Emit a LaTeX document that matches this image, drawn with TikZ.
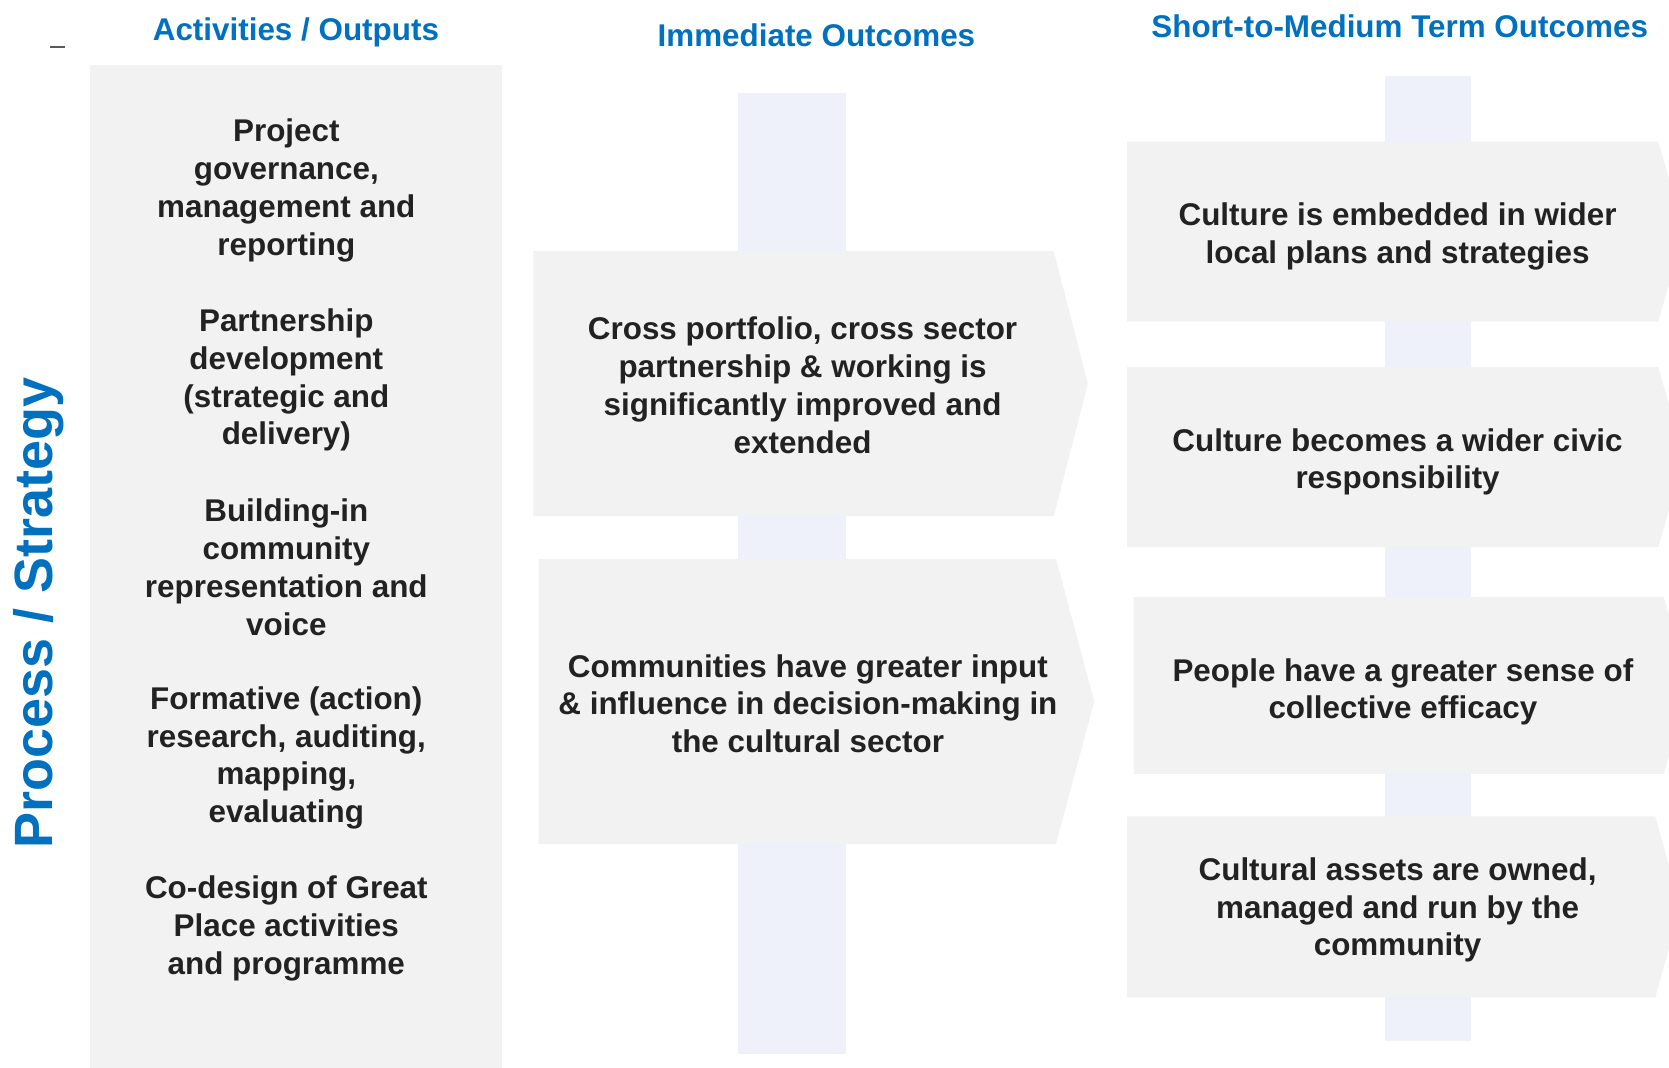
\documentclass[tikz,border=0pt]{standalone}
\usepackage{fontspec}
\setmainfont{Liberation Sans}
\definecolor{hdrblue}{HTML}{0070C0}
\definecolor{txtcol}{HTML}{222222}
\definecolor{panelgray}{HTML}{F2F2F2}
\definecolor{barlav}{HTML}{EEF0FA}
\begin{document}
\begin{tikzpicture}[x=1pt,y=-1pt,
  txt/.style={font=\bfseries\fontsize{29.5}{35.5}\selectfont, text=txtcol, align=center, inner sep=0pt},
  hdr/.style={font=\bfseries\fontsize{29.5}{35}\selectfont, text=hdrblue, inner sep=0pt},
  panel/.style={fill=panelgray, draw=none},
  bar/.style={fill=barlav, draw=none}]
\useasboundingbox (0,0) rectangle (1568,1003);
\clip (0,0) rectangle (1568,1003);
\fill[white] (0,0) rectangle (1568,1003);
% vertical bars
\fill[bar] (693,87) rectangle (795,990);
\fill[bar] (1301,71) rectangle (1382,978);
% left panel
\fill[panel] (85,61) rectangle (472,1003);
% middle chevrons
\fill[panel] (501,236) -- (990,236) -- (1022,360.5) -- (990,485) -- (501,485) -- cycle;
\fill[panel] (506,525) -- (992,525) -- (1028,659) -- (992,793) -- (506,793) -- cycle;
% right chevrons
\fill[panel] (1059,133) -- (1558,133) -- (1582,217.5) -- (1558,302) -- (1059,302) -- cycle;
\fill[panel] (1059,345) -- (1558,345) -- (1582,429.5) -- (1558,514) -- (1059,514) -- cycle;
\fill[panel] (1065,561) -- (1563,561) -- (1587,644) -- (1563,727) -- (1065,727) -- cycle;
\fill[panel] (1059,767) -- (1555,767) -- (1579,852) -- (1555,937) -- (1059,937) -- cycle;
% small dash
\draw[color=txtcol!75, line width=1.6pt] (47,44) -- (61,44);
% headers
\node[hdr] (h1) at (278,30) {Activities / Outputs};
\node[hdr] (h2) at (767,33) {Immediate Outcomes};
\node[hdr] (h3) at (1315,25) {Short-to-Medium Term Outcomes};
\node[font=\bfseries\fontsize{50.7}{55}\selectfont, text=hdrblue, inner sep=0pt, rotate=90] (side) at (36,576) {Process / Strategy};
% left activities
\node[txt] (a1) at (269,179) {Project\\governance,\\management and\\reporting};
\node[txt] (a2) at (269,357) {Partnership\\development\\(strategic and\\delivery)};
\node[txt] (a3) at (269,533) {Building-in\\community\\representation and\\voice};
\node[txt] (a4) at (269,712) {Formative (action)\\research, auditing,\\mapping,\\evaluating};
\node[txt] (a5) at (269,872) {Co-design of Great\\Place activities\\and programme};
% immediate outcomes
\node[txt] (i1) at (754,362) {Cross portfolio, cross sector\\partnership \& working is\\significantly improved and\\extended};
\node[txt] (i2) at (759,661) {Communities have greater input\\\& influence in decision-making in\\the cultural sector};
% short-to-medium outcomes
\node[txt] (s1) at (1313,222) {Culture is embedded in wider\\local plans and strategies};
\node[txt] (s2) at (1313,434) {Culture becomes a wider civic\\responsibility};
\node[txt] (s3) at (1318,650) {People have a greater sense of\\collective efficacy};
\node[txt] (s4) at (1313,855) {Cultural assets are owned,\\managed and run by the\\community};
\end{tikzpicture}
\end{document}
